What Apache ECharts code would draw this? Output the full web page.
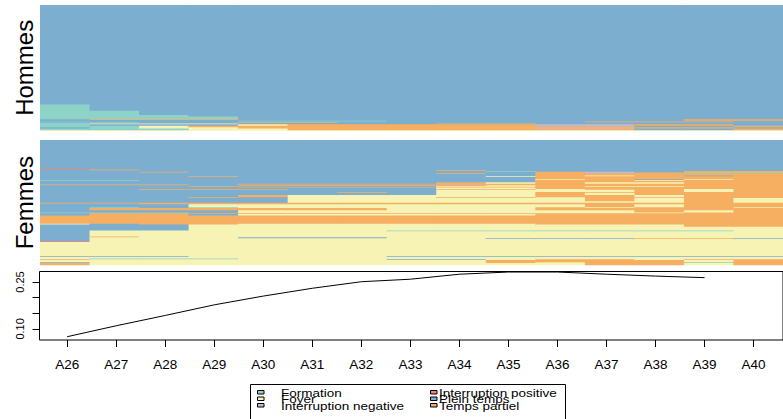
<!DOCTYPE html>
<html><head><meta charset="utf-8">
<script src="https://cdn.jsdelivr.net/npm/echarts@6/dist/echarts.min.js"></script>
<style>html,body{margin:0;padding:0;background:#fff}#c{width:783px;height:419px}</style>
</head><body><div id="c"></div>
<script>
// ---- data ----
const ages = ['A26','A27','A28','A29','A30','A31','A32','A33','A34','A35','A36','A37','A38','A39','A40'];
const stateCodes = ['F','Y','N','I','P','T'];
const stateNames = ['Formation','Foyer','Interruption negative','Interruption positive','Plein temps','Temps partiel'];
const stateColors = ['#8DD3C7','#F6F3B5','#BEBADA','#FB8072','#7CAED0','#F6AE61'];

// sequences (top to bottom), one letter per age, with number of individuals
const hommesSeq = [
 'PPPPPPPPPPPPPPP','FPPPPPPPPPPPPPP','FFPPPPPPPPPPPPP','FFFPPPPPPPPPPPP','FFFFPPPPPPPPPPP',
 'PTTTPPPPPPPPPTT','PPPPPPPPPPPPPTT','PPPPFFFPPPPPPPP','FPPPPPPPPPPTTTP','PFPPTTPPPPPPPPP',
 'FPPPPPPPTTPPPPP','FYYYPPPPPPPPPPP','FPPPYTTTTTNNTTP','FFYTTTTTTTTTPPT','PFYYTTTTTTNNTTP',
 'FFFYYTTTTTTTPPT','YYYYYYYYYYYYYYY'
];
const hommesCount = [140,9,6,2,4, 1,1,1,1,1, 1,1,2,2,2, 2,1];

const femmesSeq = [
 'PPPPPPPPPPPPPPP','IPPPPPPPPPPPPPP','PTPPPPPPPPPPPPP',
 'PPPPPPPPTPPPPPP','PPPPPPPPPFPPPTT','PPTPPPPPPPTNPTT','PPPPPPPPPPTNTFF','PPPPPPPPTPTTTTT',
 'PPPPPPPPPPTTTTT','PPPPPPPPPPTYTPT','PPPTPPPPPYTTTTT','PPPPPPPPPPTTTTT','PPPPPPPPPPYTPYT',
 'FFPPPPPPPPTTYTT','PPPPPPPPPPTTTTT','PPPPPPPPTYTYYTT',
 'PPPPTTTTNTTTTTT','TTTPPPPPTTTTTTT','PPPPTTTTTYTTTTT','PPPTPPPPYYTYYTT','PPPPTTTTTTTTTTT',
 'PPPPPPPPYYTTTTT','PPTTTPPPTTYTTYT','PPPPPPPPYYYYTYT','PPPPPPTPYYTTTTT','PPPPPPPPYYTYTTT','PPPPTYYYYYTTYTT',
 'PPPTPYYYTTYTTTT','PPPPPYYYYYYTYTY','PPPPPYYYYYYYYTY',
 'TTTTTTTTTTTTTTT','PPTTTTTTTTTTTTT','PPPYYYYYYYYTYTT','PFPFYYYYYYTYTTY','PTTTTTTYYYTTTTT',
 'PPPPYYYYYYYYTYT','FFFPYYYYYYYYYTT','PTTTTTTTTTTTTTT','PTTPYYYYYYTTTTT','TTTTTTTTTTTTTTT','YPTTYYYYYYTTTTT',
 'PPPYYYYYYYYYYTT','PPPYYYYYYYYYYYY','PYYYYYYFFFFFFFY','PYYYYYYYYYYYYYY','PTYYYYYYYYYYYYY',
 'PYYYPPPYYYYYYYY','PYYYYYYYYPPPTTP','PYYYYYYYYYYYYYY','IYYYYYYYYYYYYYY','YYYYYYYYYYYYYYY',
 'PPPYYYYPPPPPPPP','YYYYYYYYYYYYYYY','YFFFYYYYYYYYYYY','TYYYYYYPPYTTYTT','YYYYYYYYYTTTTYT',
 'PYYYYYYYYTYTTFT','TYYYYYYYYYYTTYT'
];
const femmesCount = [
 38,1,1,
 1,1,1,1,1, 2,1,1,3,1, 1,2,2,
 1,1,1,1,1, 2,1,3,1,3,3, 1,4,2,
 1,1,4,1,3, 3,1,1,2,11,1,
 3,5,1,7,1, 1,1,3,1,19, 1,2,1,1,3, 1,3
];

// transversal entropy by age (A40 not drawn)
const lineValues = [0.075,0.110,0.143,0.177,0.205,0.230,0.251,0.259,0.275,0.282,0.282,0.275,0.269,0.264,null];
const yTickValues = [0.10,0.15,0.20,0.25];
const yLabelValues = [0.10,0.25];

// ---- build ----
function buildRuns(seqs, counts) {
  const items = [];
  for (let c = 0; c < ages.length; c++) {
    let y = 0, start = 0, cur = null;
    for (let r = 0; r < seqs.length; r++) {
      const s = seqs[r][c];
      if (s !== cur) {
        if (cur !== null) items.push([c, start, y, stateCodes.indexOf(cur)]);
        cur = s; start = y;
      }
      y += counts[r];
    }
    items.push([c, start, y, stateCodes.indexOf(cur)]);
  }
  return items;
}
const total = a => a.reduce((s, v) => s + v, 0);

function renderCell(params, api) {
  const p0 = api.coord([api.value(0) - 0.5, api.value(1)]);
  const p1 = api.coord([api.value(0) + 0.5, api.value(2)]);
  return {
    type: 'rect',
    shape: { x: p0[0], y: p0[1], width: p1[0] - p0[0] + 1, height: p1[1] - p0[1] + 1 },
    style: { fill: stateColors[api.value(3)] }
  };
}

const FONT = 'Liberation Sans, Arial, sans-serif';
const ageIdx = ages.map((_, i) => i);

function seqYAxis(gi, name, max) {
  return {
    gridIndex: gi, type: 'value', min: 0, max: max, inverse: true,
    axisLine: { show: false, onZero: false }, axisTick: { show: false }, axisLabel: { show: false }, splitLine: { show: false },
    name: name, nameLocation: 'middle', nameRotate: 90, nameGap: 4,
    nameTextStyle: { fontSize: 24, color: '#000', fontFamily: FONT }
  };
}
function seqXAxis(gi) {
  return { gridIndex: gi, type: 'value', min: -0.5, max: 14.5, show: false };
}

const legendGraphics = [
  { type: 'rect', shape: { x: 250.5, y: 384.5, width: 315, height: 45 }, style: { fill: '#fff', stroke: '#000', lineWidth: 1 }, z: 10 }
];
const legendCols = [{ ix: 257.5, tx: 281 }, { ix: 430.5, tx: 439 }];
const legendRows = [{ iy: 390.5, ty: 393 }, { iy: 397, ty: 399.5 }, { iy: 403.5, ty: 406.5 }];
stateNames.forEach((nm, i) => {
  const col = legendCols[Math.floor(i / 3)], row = legendRows[i % 3];
  legendGraphics.push({ type: 'rect', shape: { x: col.ix, y: row.iy, width: 6.5, height: 3.5 },
    style: { fill: stateColors[i], stroke: '#000', lineWidth: 1 }, z: 11 });
  legendGraphics.push({ type: 'text', x: col.tx, y: row.ty, scaleY: 0.82, z: 11,
    style: { text: nm, fill: '#000', font: '13.5px ' + FONT, textAlign: 'left', textVerticalAlign: 'middle' } });
});

const option = {
  animation: false,
  backgroundColor: '#fff',
  grid: [
    { left: 40, top: 5, width: 745.5, height: 125.7 },
    { left: 40, top: 140, width: 745.5, height: 125.3 },
    { left: 39.5, top: 271.5, width: 760, height: 68.5, show: true, borderColor: '#000', borderWidth: 1, backgroundColor: 'transparent' }
  ],
  xAxis: [
    seqXAxis(0), seqXAxis(1),
    { gridIndex: 2, type: 'value', min: -0.565, max: 14.6,
      axisLine: { show: false, onZero: false }, splitLine: { show: false },
      axisTick: { show: true, customValues: ageIdx, length: 7, lineStyle: { color: '#000', width: 1 } },
      axisLabel: { customValues: ageIdx, formatter: v => ages[Math.round(v)], margin: 17, fontSize: 13.5, color: '#000', fontFamily: FONT } }
  ],
  yAxis: [
    seqYAxis(0, 'Hommes', total(hommesCount)),
    seqYAxis(1, 'Femmes', total(femmesCount)),
    { gridIndex: 2, type: 'value', min: 0.0644, max: 0.2837,
      axisLine: { show: false, onZero: false }, splitLine: { show: false },
      axisTick: { show: true, customValues: yTickValues, length: 7, lineStyle: { color: '#000', width: 1 } },
      axisLabel: { customValues: yLabelValues, rotate: 90, formatter: v => v.toFixed(2), margin: 14, fontSize: 11, color: '#000', fontFamily: FONT } }
  ],
  series: [
    { type: 'custom', name: 'Hommes', xAxisIndex: 0, yAxisIndex: 0, clip: true, renderItem: renderCell,
      data: buildRuns(hommesSeq, hommesCount), silent: true },
    { type: 'custom', name: 'Femmes', xAxisIndex: 1, yAxisIndex: 1, clip: true, renderItem: renderCell,
      data: buildRuns(femmesSeq, femmesCount), silent: true },
    { type: 'line', name: 'Entropie', xAxisIndex: 2, yAxisIndex: 2, showSymbol: false, symbol: 'none',
      data: lineValues.map((v, i) => [i, v]).filter(d => d[1] !== null),
      lineStyle: { color: '#000', width: 1 }, itemStyle: { color: '#000' }, clip: false }
  ],
  graphic: legendGraphics
};

const chart = echarts.init(document.getElementById('c'), null, { renderer: 'svg' });
chart.setOption(option);
</script>
</body></html>
